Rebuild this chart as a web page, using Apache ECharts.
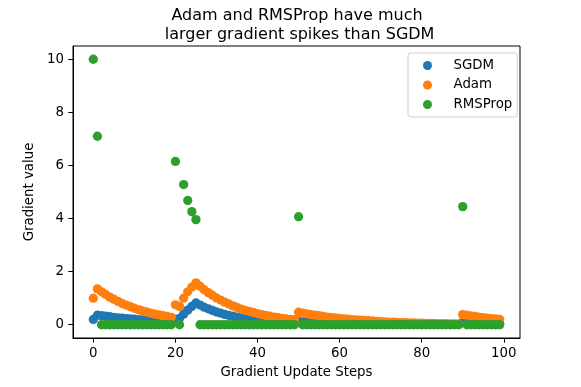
<!DOCTYPE html>
<html>
<head>
<meta charset="utf-8">
<script src="https://cdn.jsdelivr.net/npm/echarts@6/dist/echarts.min.js"></script>
<style>
html,body{margin:0;padding:0;background:#fff;}
#chart{width:581px;height:387px;}
</style>
</head>
<body>
<div id="chart"></div>
<script>
// ---- data ----
const steps = Array.from({length: 100}, (_, i) => i);

const sgdm = [
  0.20, 0.36,
  0.34, 0.32, 0.30, 0.28, 0.26, 0.25, 0.23, 0.22, 0.21, 0.19, 0.18, 0.17, 0.16, 0.15, 0.14, 0.13, 0.12, 0.12,
  0.20, 0.24, 0.40, 0.55, 0.69, 0.82,
  0.74, 0.66, 0.60, 0.54, 0.48, 0.44, 0.39, 0.35, 0.32, 0.29, 0.26, 0.23, 0.21, 0.19, 0.17, 0.15, 0.14, 0.12, 0.11, 0.10, 0.09, 0.08, 0.07, 0.06,
  0.12,
  0.11, 0.10, 0.09, 0.08, 0.07, 0.06, 0.06, 0.05, 0.05, 0.04, 0.04, 0.03, 0.03, 0.03, 0.03, 0.02, 0.02, 0.02, 0.02, 0.02,
  0.01, 0.01, 0.01, 0.01, 0.01, 0.01, 0.01, 0.01, 0.01, 0.01, 0.01, 0.01, 0.01, 0.01, 0.01, 0.01, 0.01, 0.01, 0.01,
  0.10,
  0.09, 0.08, 0.07, 0.06, 0.06, 0.05, 0.05, 0.04, 0.04
];

const adam = [
  1.00, 1.35,
  1.24, 1.14, 1.04, 0.96, 0.88, 0.80, 0.74, 0.68, 0.62, 0.57, 0.52, 0.48, 0.44, 0.40, 0.37, 0.34, 0.31, 0.28,
  0.75, 0.69, 1.00, 1.24, 1.42, 1.58,
  1.45, 1.32, 1.21, 1.11, 1.01, 0.93, 0.85, 0.78, 0.71, 0.65, 0.59, 0.54, 0.50, 0.46, 0.42, 0.38, 0.35, 0.32, 0.29, 0.27, 0.24, 0.22, 0.20, 0.19,
  0.47,
  0.44, 0.41, 0.38, 0.36, 0.34, 0.31, 0.29, 0.27, 0.26, 0.24, 0.22, 0.21, 0.19, 0.18, 0.17, 0.16, 0.15, 0.14, 0.13, 0.12,
  0.11, 0.10, 0.10, 0.09, 0.08, 0.08, 0.07, 0.07, 0.06, 0.06, 0.05, 0.05, 0.05, 0.04, 0.04, 0.04, 0.03, 0.03, 0.03,
  0.38,
  0.36, 0.33, 0.31, 0.29, 0.27, 0.25, 0.23, 0.22, 0.20
];

const rmsprop = [
  10.0, 7.1,
  0, 0, 0, 0, 0, 0, 0, 0, 0, 0, 0, 0, 0, 0, 0, 0, 0, 0,
  6.15, 0, 5.28, 4.68, 4.26, 3.96,
  0, 0, 0, 0, 0, 0, 0, 0, 0, 0, 0, 0, 0, 0, 0, 0, 0, 0, 0, 0, 0, 0, 0, 0,
  4.07,
  0, 0, 0, 0, 0, 0, 0, 0, 0, 0, 0, 0, 0, 0, 0, 0, 0, 0, 0, 0,
  0, 0, 0, 0, 0, 0, 0, 0, 0, 0, 0, 0, 0, 0, 0, 0, 0, 0, 0,
  4.45,
  0, 0, 0, 0, 0, 0, 0, 0, 0
];

const xTicks = [0, 20, 40, 60, 80, 100];
const yTicks = [0, 2, 4, 6, 8, 10];
const seriesNames = ['SGDM', 'Adam', 'RMSProp'];
const seriesColors = ['#1f77b4', '#ff7f0e', '#2ca02c'];
const titleText = 'Adam and RMSProp have much\n larger gradient spikes than SGDM';
const xLabel = 'Gradient Update Steps';
const yLabel = 'Gradient value';

// ---- chart ----
const FONT = 'DejaVu Sans';
const FS = 13.33;
const pairs = arr => steps.map((s, i) => [s, arr[i]]);
const allSeries = [sgdm, adam, rmsprop];

const chart = echarts.init(document.getElementById('chart'), null, {renderer: 'canvas'});
chart.setOption({
  animation: false,
  backgroundColor: '#fff',
  title: {
    text: titleText,
    left: 292, top: 2, textAlign: 'center',
    textStyle: {fontFamily: FONT, fontSize: 16, fontWeight: 'normal', color: '#000', lineHeight: 18.5, align: 'center'}
  },
  legend: {
    data: seriesNames,
    orient: 'vertical',
    left: 408, top: 53,
    padding: [5, 5, 5, 15],
    itemGap: 4.5,
    itemWidth: 30, itemHeight: 9,
    icon: 'circle',
    backgroundColor: '#fff',
    borderColor: '#d0d0d0', borderWidth: 1, borderRadius: 3,
    textStyle: {fontFamily: FONT, fontSize: FS, color: '#000', lineHeight: 15, padding: [0, 0, 0, 6]}
  },
  grid: {left: 73, right: 61, top: 46, bottom: 49, show: true, borderColor: '#000', borderWidth: 1, backgroundColor: 'transparent'},
  xAxis: {
    type: 'value', min: -4.95, max: 103.95,
    name: xLabel, nameLocation: 'middle', nameGap: 28,
    nameTextStyle: {fontFamily: FONT, fontSize: FS, color: '#000'},
    axisLine: {show: true, onZero: false, lineStyle: {color: '#000', width: 1}},
    axisTick: {show: true, length: 4.7, customValues: xTicks, lineStyle: {color: '#000'}},
    axisLabel: {customValues: xTicks, fontFamily: FONT, fontSize: FS, color: '#000', margin: 9},
    splitLine: {show: false}
  },
  yAxis: {
    type: 'value', min: -0.5, max: 10.5,
    name: yLabel, nameLocation: 'middle', nameGap: 31, nameRotate: 90,
    nameTextStyle: {fontFamily: FONT, fontSize: FS, color: '#000'},
    axisLine: {show: true, onZero: false, lineStyle: {color: '#000', width: 1}},
    axisTick: {show: true, length: 4.7, customValues: yTicks, lineStyle: {color: '#000'}},
    axisLabel: {customValues: yTicks, fontFamily: FONT, fontSize: FS, color: '#000', margin: 9},
    splitLine: {show: false}
  },
  series: seriesNames.map((n, k) => ({
    name: n, type: 'scatter', symbolSize: 9.3,
    itemStyle: {color: seriesColors[k], opacity: 1},
    data: pairs(allSeries[k])
  }))
});
</script>
</body>
</html>
